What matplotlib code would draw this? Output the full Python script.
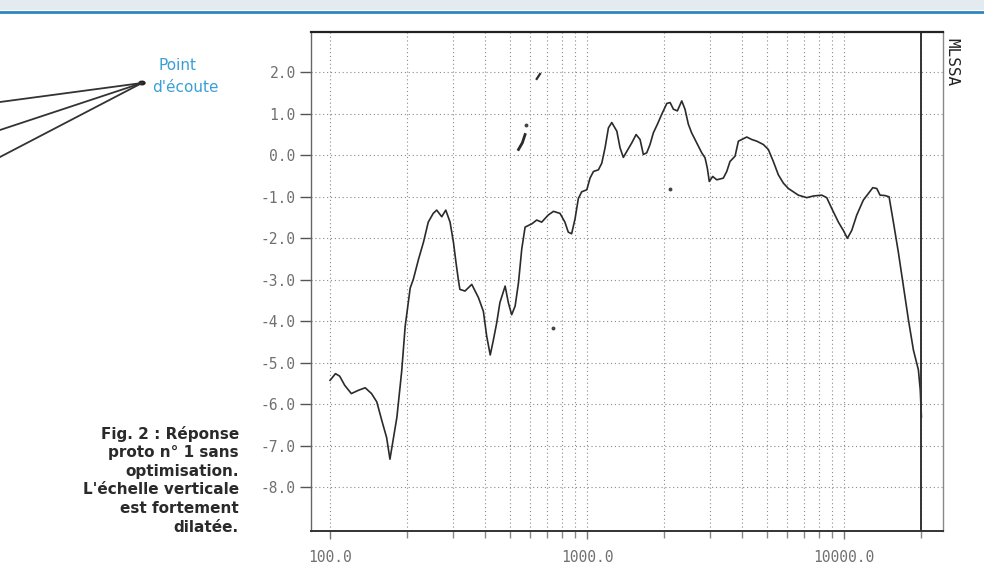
import numpy as np
import matplotlib
matplotlib.use("Agg")
import matplotlib.pyplot as plt
from matplotlib.lines import Line2D
from matplotlib.patches import Rectangle, Circle

plt.rcParams['axes.unicode_minus'] = False

# ── data (Hz, dB) ──────────────────────────────────────────────────────────
freq = [100, 105, 109, 114, 121, 129, 137, 145, 152, 159, 166, 171, 182, 190,
        196, 205, 211, 221, 231, 241, 252, 260, 272, 282, 293, 302, 309, 316,
        320, 335, 356, 378, 395, 407, 420, 432, 445, 458, 480, 494, 509, 525,
        541, 557, 574, 610, 637, 666, 706, 740, 785, 820, 845, 871, 898, 925,
        953, 998, 1027, 1059, 1107, 1141, 1175, 1211, 1248, 1306, 1344, 1384,
        1449, 1493, 1552, 1608, 1656, 1707, 1758, 1811, 1879, 1953, 2044, 2105,
        2168, 2246, 2336, 2405, 2478, 2553, 2672, 2794, 2878, 2938, 2990, 3083,
        3197, 3390, 3496, 3599, 3767, 3880, 4000, 4183, 4375, 4576, 4853, 5075,
        5308, 5551, 5806, 6072, 6351, 6642, 7161, 7603, 8190, 8563, 8956, 9507,
        9939, 10303, 10715, 11205, 11885, 12436, 12941, 13407, 13809, 14445,
        14972, 15560, 16273, 17021, 17801, 18617, 19469, 19800, 20000]
level = [-5.42, -5.26, -5.32, -5.54, -5.74, -5.66, -5.60, -5.74, -5.94, -6.39,
         -6.80, -7.32, -6.31, -5.20, -4.12, -3.20, -2.98, -2.50, -2.09, -1.61,
         -1.40, -1.32, -1.48, -1.32, -1.61, -2.09, -2.58, -3.02, -3.23, -3.27,
         -3.11, -3.43, -3.76, -4.36, -4.81, -4.45, -4.04, -3.55, -3.15, -3.55,
         -3.84, -3.63, -3.07, -2.26, -1.73, -1.65, -1.56, -1.61, -1.44, -1.35,
         -1.40, -1.61, -1.85, -1.89, -1.53, -1.04, -0.88, -0.83, -0.55, -0.39,
         -0.35, -0.19, 0.18, 0.66, 0.79, 0.58, 0.18, -0.05, 0.16, 0.30, 0.50,
         0.38, 0.02, 0.06, 0.26, 0.54, 0.75, 0.99, 1.25, 1.27, 1.11, 1.07, 1.31,
         1.11, 0.75, 0.54, 0.30, 0.06, -0.06, -0.31, -0.63, -0.51, -0.59, -0.55,
         -0.39, -0.15, -0.02, 0.34, 0.38, 0.44, 0.38, 0.34, 0.26, 0.14, -0.15,
         -0.47, -0.67, -0.80, -0.88, -0.96, -1.02, -0.98, -0.96, -1.02, -1.28,
         -1.61, -1.81, -2.00, -1.81, -1.44, -1.08, -0.92, -0.78, -0.80, -0.96,
         -0.97, -1.00, -1.61, -2.34, -3.15, -3.96, -4.69, -5.17, -5.66, -6.30]

# stray bits of trace visible in the scan
frag_freq = [541, 560, 574]
frag_level = [0.14, 0.30, 0.50]
frag2_freq = [637, 656]
frag2_level = [1.84, 1.96]
speck_freq = [580, 740, 2105]
speck_level = [0.72, -4.16, -0.80]

ytick_vals = [2, 1, 0, -1, -2, -3, -4, -5, -6, -7, -8]
xtick_major = [100, 1000, 10000]
xtick_major_labels = ['100.0', '1000.0', '10000.0']
xtick_minor = [200, 300, 400, 500, 600, 700, 800, 900,
               2000, 3000, 4000, 5000, 6000, 7000, 8000, 9000, 20000]

caption = ["Fig. 2 : Réponse", "proto n° 1 sans", "optimisation.",
           "L'échelle verticale", "est fortement", "dilatée."]

# ── figure ────────────────────────────────────────────────────────────────
W, H = 984, 575
fig = plt.figure(figsize=(W / 100, H / 100), dpi=100)
fig.patch.set_facecolor('white')

def px(x, y):
    return x / W, 1 - y / H

# top band of the page
fig.add_artist(Rectangle((0, 1 - 10 / H), 1, 10 / H, transform=fig.transFigure,
                         facecolor='#e4ebf0', edgecolor='none'))
fig.add_artist(Line2D([0, 1], [1 - 12 / H] * 2, transform=fig.transFigure,
                      color='#2e86c1', lw=2))

# listening-point sketch
ear = (142, 83)
for y0 in [102, 130, 157]:
    x1, y1 = px(0, y0)
    x2, y2 = px(*ear)
    fig.add_artist(Line2D([x1, x2], [y1, y2], transform=fig.transFigure,
                          color='#333333', lw=1.3))
fig.add_artist(Circle(px(*ear), 3 / W, transform=fig.transFigure,
                      color='#222222'))
fig.text(*px(158, 65), 'Point', color='#3a9fd6', fontsize=11,
         ha='left', va='center')
fig.text(*px(152, 88), "d'écoute", color='#3a9fd6', fontsize=11,
         ha='left', va='center')

# caption
for i, line in enumerate(caption):
    fig.text(*px(239, 434 + i * 18.6), line, fontsize=11, fontweight='bold',
             color='#2a2a2a', ha='right', va='center')

# ── response plot ────────────────────────────────────────────────────────
ax = fig.add_axes([311 / W, 1 - 531 / H, (943 - 311) / W, (531 - 32) / H])
ax.set_xscale('log')
ax.set_xlim(84.3, 24270)
ax.set_ylim(-9.05, 2.97)

ax.plot(freq, level, color='#2b2b2b', lw=1.2)
ax.plot(frag_freq, frag_level, color='#2b2b2b', lw=2)
ax.plot(frag2_freq, frag2_level, color='#2b2b2b', lw=1.6)
ax.plot(speck_freq, speck_level, ls='none', marker='o', ms=1.8, color='#444444')

ax.axvline(20000, color='#333333', lw=1.4)

ax.set_xticks(xtick_major)
ax.set_xticklabels(xtick_major_labels)
ax.set_xticks(xtick_minor, minor=True)
ax.set_xticklabels([], minor=True)
ax.set_yticks(ytick_vals)
ax.set_yticklabels([f'{v:.1f}' for v in ytick_vals])

ax.grid(True, which='both', axis='x', color='#8a8a8a', ls=(0, (1, 2.5)), lw=0.8)
ax.grid(True, which='major', axis='y', color='#8a8a8a', ls=(0, (1, 2.5)), lw=0.8)

mono = 'DejaVu Sans Mono'
for lab in ax.get_xticklabels() + ax.get_yticklabels():
    lab.set_family(mono)
    lab.set_fontsize(10.5)
    lab.set_color('#707070')
ax.tick_params(axis='y', which='major', direction='out', length=8, width=1,
               color='#555555', pad=3)
ax.tick_params(axis='x', which='major', direction='out', length=6, width=1,
               color='#777777', pad=8)
ax.tick_params(axis='x', which='minor', direction='out', length=5, width=1,
               color='#888888')

ax.spines['top'].set_color('#222222')
ax.spines['top'].set_linewidth(1.6)
ax.spines['bottom'].set_color('#333333')
ax.spines['bottom'].set_linewidth(1.4)
ax.spines['left'].set_color('#666666')
ax.spines['left'].set_linewidth(1.0)
ax.spines['right'].set_color('#888888')
ax.spines['right'].set_linewidth(1.0)

fig.text(*px(952, 62), 'MLSSA', family=mono, fontsize=11.5, color='#222222',
         rotation=-90, ha='center', va='center')

fig.savefig('out.png', dpi=100, facecolor='white')
